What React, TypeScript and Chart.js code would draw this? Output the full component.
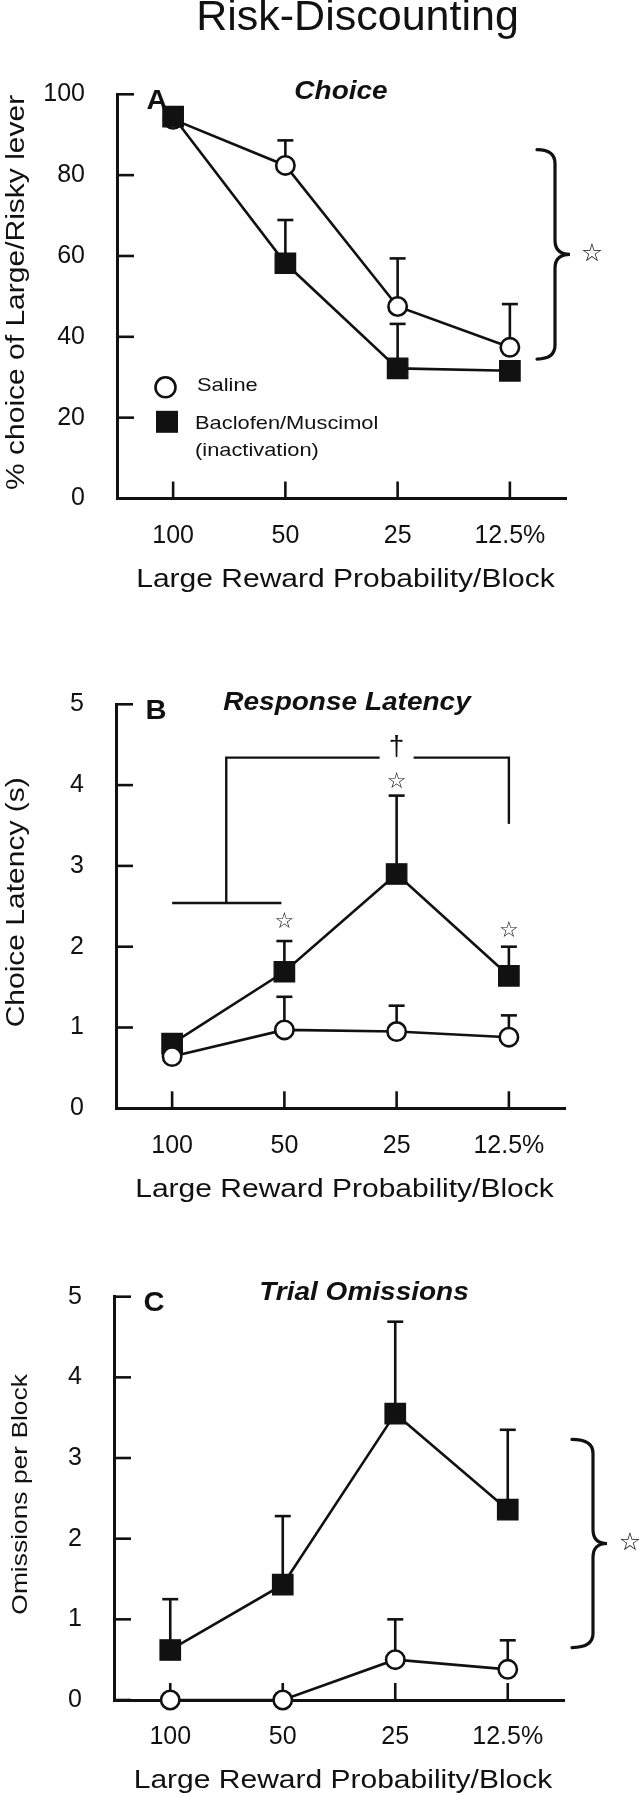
import React, { useEffect, useRef } from 'react';
import { Chart, registerables } from 'chart.js';

Chart.register(...registerables);

const FONT = "'Liberation Sans', Arial, Helvetica, sans-serif";
const SYMBOL_FONT = "'DejaVu Sans', sans-serif";
const INK = '#111111';

// ---------- data ----------
const categories = ['100', '50', '25', '12.5%'];

// Panel A: % choice of Large/Risky lever
const choiceTicks = [0, 20, 40, 60, 80, 100];
const choiceSaline = [93.8, 82.4, 47.5, 37.4];
const choiceSalineErr = [0, 6.2, 11.9, 10.7];
const choiceBaclofen = [94.5, 58.2, 32.2, 31.6];
const choiceBaclofenErr = [1.5, 10.7, 11.0, 1.5];

// Panel B: choice latency (s)
const latencyTicks = [0, 1, 2, 3, 4, 5];
const latencySaline = [0.64, 0.97, 0.95, 0.88];
const latencySalineErr = [0, 0.41, 0.32, 0.27];
const latencyBaclofen = [0.8, 1.69, 2.9, 1.64];
const latencyBaclofenErr = [0.05, 0.38, 0.97, 0.36];

// Panel C: omissions per block
const omissionTicks = [0, 1, 2, 3, 4, 5];
const omissionSaline = [0, 0, 0.5, 0.38];
const omissionSalineErr = [0, 0, 0.5, 0.36];
const omissionBaclofen = [0.62, 1.43, 3.55, 2.36];
const omissionBaclofenErr = [0.63, 0.85, 1.14, 0.99];

// significance annotations (in data units)
const choiceBraceRange = [34.5, 86.3];
const omissionBraceRange = [0.65, 3.23];
const latencyBracketLow = 2.54;
const latencyBracketHigh = 4.34;
const latencyBracketRightEnd = 3.52;
const latencyDaggerValue = 4.47;
const latencyStarValues = [null, 2.3, 4.04, 2.19];

const seriesNames = ['Saline', 'Baclofen/Muscimol', '(inactivation)'];

// ---------- drawing helpers ----------
type TextOpts = {
  size: number;
  weight?: string;
  style?: string;
  sx?: number;
  align?: CanvasTextAlign;
  rot?: number;
  family?: string;
};

function drawText(ctx: CanvasRenderingContext2D, text: string, x: number, y: number, o: TextOpts) {
  ctx.save();
  ctx.font = `${o.style || 'normal'} ${o.weight || 'normal'} ${o.size}px ${o.family || FONT}`;
  ctx.fillStyle = INK;
  ctx.textAlign = o.align || 'center';
  ctx.textBaseline = 'middle';
  ctx.translate(x, y);
  if (o.rot) ctx.rotate(o.rot);
  ctx.scale(o.sx || 1, 1);
  ctx.fillText(text, 0, 0);
  ctx.restore();
}

function drawBrace(ctx: CanvasRenderingContext2D, xOpen: number, xSpine: number, xTip: number, yTop: number, yBot: number) {
  const yMid = (yTop + yBot) / 2;
  const r = 14;
  ctx.save();
  ctx.strokeStyle = INK;
  ctx.lineWidth = 3.2;
  ctx.lineCap = 'round';
  ctx.beginPath();
  ctx.moveTo(xOpen, yTop);
  ctx.quadraticCurveTo(xSpine, yTop, xSpine, yTop + r);
  ctx.lineTo(xSpine, yMid - r);
  ctx.quadraticCurveTo(xSpine, yMid, xTip, yMid);
  ctx.quadraticCurveTo(xSpine, yMid, xSpine, yMid + r);
  ctx.lineTo(xSpine, yBot - r);
  ctx.quadraticCurveTo(xSpine, yBot, xOpen, yBot);
  ctx.stroke();
  ctx.restore();
}

function line(ctx: CanvasRenderingContext2D, x1: number, y1: number, x2: number, y2: number, w = 2.5) {
  ctx.save();
  ctx.strokeStyle = INK;
  ctx.lineWidth = w;
  ctx.beginPath();
  ctx.moveTo(x1, y1);
  ctx.lineTo(x2, y2);
  ctx.stroke();
  ctx.restore();
}

type PanelSpec = {
  area: { top: number; bottom: number; left: number; right: number };
  min: number;
  max: number;
  step: number;
  letter: string;
  title: string;
  titleX: number;
  titleDy: number;
  yTitle: string;
  yTitleSize: number;
  yTitleX: number;
  saline: number[];
  salineErr: number[];
  baclofen: number[];
  baclofenErr: number[];
  salineOnTop: boolean;
  brace?: { range: number[]; open: number; spine: number; tip: number; star: number };
  legend?: boolean;
  latencyMarks?: boolean;
  page?: boolean;
};

function makeDecor(spec: PanelSpec) {
  return {
    id: 'decor',
    beforeDatasetsDraw(chart: any) {
      const ctx: CanvasRenderingContext2D = chart.ctx;
      const xs = chart.scales.x;
      const ys = chart.scales.y;
      const { left, bottom } = chart.chartArea;
      // inward ticks
      ys.ticks.forEach((t: any) => {
        const py = ys.getPixelForValue(t.value);
        line(ctx, left, py, left + 17, py, 2.6);
      });
      categories.forEach((_, i) => {
        const px = xs.getPixelForValue(i);
        line(ctx, px, bottom, px, bottom - 17, 2.6);
      });
      // error bars (upper only)
      const sets = [
        { idx: 0, vals: spec.saline, errs: spec.salineErr },
        { idx: 1, vals: spec.baclofen, errs: spec.baclofenErr },
      ];
      sets.forEach(({ idx, vals, errs }) => {
        const meta = chart.getDatasetMeta(idx);
        vals.forEach((v, j) => {
          const e = errs[j];
          if (!e) return;
          const pt = meta.data[j];
          const yTop = ys.getPixelForValue(v + e);
          line(ctx, pt.x, pt.y, pt.x, yTop, 2.6);
          line(ctx, pt.x - 8, yTop, pt.x + 8, yTop, 2.6);
        });
      });
    },
    afterDatasetsDraw(chart: any) {
      const ctx: CanvasRenderingContext2D = chart.ctx;
      const xs = chart.scales.x;
      const ys = chart.scales.y;
      const { left, right, top, bottom } = chart.chartArea;
      const cx = (left + right) / 2;

      if (spec.page) {
        drawText(ctx, 'Risk-Discounting', 357.5, 17.8, { size: 43 });
      }
      // panel letter and title
      drawText(ctx, spec.letter, left + 40, top + 7, { size: 27, weight: 'bold', sx: 1.08 });
      drawText(ctx, spec.title, spec.titleX, top + spec.titleDy, { size: 25, weight: 'bold', style: 'italic', sx: 1.12 });
      // axis titles
      drawText(ctx, 'Large Reward Probability/Block', cx + 4, bottom + 81.5, { size: 25, sx: 1.2 });
      drawText(ctx, spec.yTitle, spec.yTitleX, (top + bottom) / 2 - 4, { size: spec.yTitleSize, sx: 1.2, rot: -Math.PI / 2 });

      if (spec.legend) {
        ctx.save();
        ctx.beginPath();
        ctx.arc(left + 48.5, top + 293, 10, 0, Math.PI * 2);
        ctx.fillStyle = '#ffffff';
        ctx.fill();
        ctx.lineWidth = 2.6;
        ctx.strokeStyle = INK;
        ctx.stroke();
        ctx.fillStyle = INK;
        ctx.fillRect(left + 39, top + 316.5, 22, 22);
        ctx.restore();
        drawText(ctx, seriesNames[0], left + 80, top + 291, { size: 19, sx: 1.15, align: 'left' });
        drawText(ctx, seriesNames[1], left + 78, top + 329, { size: 19, sx: 1.15, align: 'left' });
        drawText(ctx, seriesNames[2], left + 78, top + 356, { size: 19, sx: 1.15, align: 'left' });
      }

      if (spec.brace) {
        const b = spec.brace;
        const yT = ys.getPixelForValue(b.range[1]);
        const yB = ys.getPixelForValue(b.range[0]);
        drawBrace(ctx, right + b.open, right + b.spine, right + b.tip, yT, yB);
        drawText(ctx, '\u2606', right + b.star, (yT + yB) / 2, { size: 25, family: SYMBOL_FONT });
      }

      if (spec.latencyMarks) {
        const x0 = xs.getPixelForValue(0);
        const x1 = xs.getPixelForValue(1);
        const x2 = xs.getPixelForValue(2);
        const x3 = xs.getPixelForValue(3);
        const xm = (x0 + x1) / 2 - 2;
        const yl = ys.getPixelForValue(latencyBracketLow);
        const yh = ys.getPixelForValue(latencyBracketHigh);
        const yr = ys.getPixelForValue(latencyBracketRightEnd);
        line(ctx, x0, yl, x1 - 3, yl, 2.4);
        line(ctx, xm, yl, xm, yh, 2.4);
        line(ctx, xm - 1.2, yh, x2 - 17, yh, 2.4);
        line(ctx, x2 + 17, yh, x3 + 1.2, yh, 2.4);
        line(ctx, x3, yh, x3, yr, 2.4);
        drawText(ctx, '\u2020', x2, ys.getPixelForValue(latencyDaggerValue), { size: 28 });
        latencyStarValues.forEach((v, i) => {
          if (v == null) return;
          drawText(ctx, '\u2606', xs.getPixelForValue(i), ys.getPixelForValue(v), { size: 22, family: SYMBOL_FONT });
        });
      }
    },
  };
}

function buildChart(canvas: HTMLCanvasElement, spec: PanelSpec) {
  const a = spec.area;
  const tickFont = { family: FONT, size: 25 };
  return new Chart(canvas, {
    type: 'line',
    data: {
      labels: categories,
      datasets: [
        {
          label: seriesNames[0],
          data: spec.saline,
          borderColor: INK,
          borderWidth: 2.6,
          pointStyle: 'circle',
          pointRadius: 9.2,
          pointBorderWidth: 2.6,
          pointBackgroundColor: '#ffffff',
          pointBorderColor: INK,
          clip: false,
          order: spec.salineOnTop ? 0 : 1,
        } as any,
        {
          label: seriesNames[1],
          data: spec.baclofen,
          borderColor: INK,
          borderWidth: 2.6,
          pointStyle: 'rect',
          pointRadius: 14.5,
          pointBorderWidth: 1.2,
          pointBackgroundColor: INK,
          pointBorderColor: INK,
          clip: false,
          order: spec.salineOnTop ? 1 : 0,
        } as any,
      ],
    },
    options: {
      responsive: false,
      animation: false,
      devicePixelRatio: 1,
      events: [],
      layout: { padding: { top: a.top, right: 643 - a.right, left: 0, bottom: 0 } },
      plugins: { legend: { display: false }, tooltip: { enabled: false } },
      scales: {
        x: {
          type: 'category',
          offset: true,
          grid: { display: false, drawTicks: false },
          border: { display: true, color: INK, width: 3 },
          ticks: { font: tickFont, color: INK, padding: 22.5, maxRotation: 0, autoSkip: false },
          afterFit: (s: any) => {
            s.height = 1800 - a.bottom;
          },
        },
        y: {
          type: 'linear',
          min: spec.min,
          max: spec.max,
          grid: { display: false, drawTicks: false },
          border: { display: true, color: INK, width: 3 },
          ticks: { font: tickFont, color: INK, padding: 32, stepSize: spec.step },
          afterFit: (s: any) => {
            s.width = a.left;
          },
        },
      },
    } as any,
    plugins: [makeDecor(spec)],
  });
}

const panels: PanelSpec[] = [
  {
    area: { top: 94.3, bottom: 498.5, left: 117, right: 566 },
    min: choiceTicks[0],
    max: choiceTicks[choiceTicks.length - 1],
    step: choiceTicks[1] - choiceTicks[0],
    letter: 'A',
    title: 'Choice',
    titleX: 341,
    titleDy: -2,
    yTitle: '% choice of Large/Risky lever',
    yTitleSize: 25,
    yTitleX: 17,
    saline: choiceSaline,
    salineErr: choiceSalineErr,
    baclofen: choiceBaclofen,
    baclofenErr: choiceBaclofenErr,
    salineOnTop: false,
    brace: { range: choiceBraceRange, open: -29, spine: -11, tip: 4, star: 26 },
    legend: true,
    page: true,
  },
  {
    area: { top: 704.3, bottom: 1108.3, left: 116, right: 565 },
    min: latencyTicks[0],
    max: latencyTicks[latencyTicks.length - 1],
    step: 1,
    letter: 'B',
    title: 'Response Latency',
    titleX: 347,
    titleDy: -1,
    yTitle: 'Choice Latency (s)',
    yTitleSize: 25,
    yTitleX: 17,
    saline: latencySaline,
    salineErr: latencySalineErr,
    baclofen: latencyBaclofen,
    baclofenErr: latencyBaclofenErr,
    salineOnTop: true,
    latencyMarks: true,
  },
  {
    area: { top: 1296.7, bottom: 1700, left: 114, right: 564 },
    min: omissionTicks[0],
    max: omissionTicks[omissionTicks.length - 1],
    step: 1,
    letter: 'C',
    title: 'Trial Omissions',
    titleX: 364,
    titleDy: -4,
    yTitle: 'Omissions per Block',
    yTitleSize: 22,
    yTitleX: 21,
    saline: omissionSaline,
    salineErr: omissionSalineErr,
    baclofen: omissionBaclofen,
    baclofenErr: omissionBaclofenErr,
    salineOnTop: true,
    brace: { range: omissionBraceRange, open: 8, spine: 29, tip: 43, star: 66 },
  },
];

export default function App() {
  const refs = [useRef<HTMLCanvasElement>(null), useRef<HTMLCanvasElement>(null), useRef<HTMLCanvasElement>(null)];
  useEffect(() => {
    const charts = panels.map((p, i) => buildChart(refs[i].current as HTMLCanvasElement, p));
    return () => charts.forEach((c) => c.destroy());
  }, []);
  return (
    <div style={{ position: 'absolute', left: 0, top: 0, width: 643, height: 1800, background: '#ffffff' }}>
      {refs.map((r, i) => (
        <canvas
          key={i}
          ref={r}
          width={643}
          height={1800}
          style={{ position: 'absolute', left: 0, top: 0, width: 643, height: 1800 }}
        />
      ))}
    </div>
  );
}
